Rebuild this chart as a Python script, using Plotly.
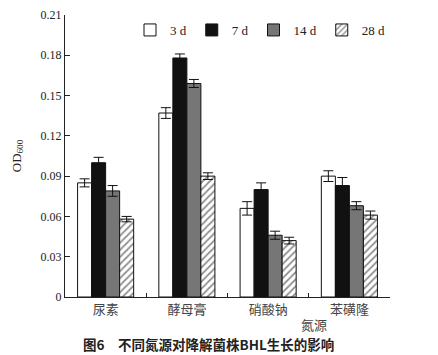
import plotly.graph_objects as go

categories = ["尿素", "酵母膏", "硝酸钠", "苯磺隆"]
series_names = ["3 d", "7 d", "14 d", "28 d"]
values = {
    "3 d": [0.085, 0.137, 0.066, 0.090],
    "7 d": [0.100, 0.178, 0.080, 0.083],
    "14 d": [0.079, 0.159, 0.046, 0.068],
    "28 d": [0.058, 0.090, 0.042, 0.061],
}
errors = {
    "3 d": [0.003, 0.004, 0.005, 0.004],
    "7 d": [0.004, 0.003, 0.005, 0.006],
    "14 d": [0.004, 0.003, 0.003, 0.003],
    "28 d": [0.002, 0.0025, 0.0025, 0.003],
}
y_ticks = [0, 0.03, 0.06, 0.09, 0.12, 0.15, 0.18, 0.21]
y_tick_labels = ["0", "0.03", "0.06", "0.09", "0.12", "0.15", "0.18", "0.21"]

styles = {
    "3 d": dict(color="white", pattern=None),
    "7 d": dict(color="#111111", pattern=None),
    "14 d": dict(color="#767676", pattern=None),
    "28 d": dict(color="white", pattern=dict(shape="/", fgcolor="#222222", bgcolor="white", size=5, solidity=0.35)),
}

serif = "Liberation Serif, Times New Roman, serif"
cjk = "Noto Sans CJK SC, sans-serif"

fig = go.Figure()
for name in series_names:
    st = styles[name]
    marker = dict(color=st["color"], line=dict(color="#111111", width=1))
    if st["pattern"]:
        marker["pattern"] = st["pattern"]
    fig.add_trace(go.Bar(
        name=name,
        x=categories,
        y=values[name],
        marker=marker,
        error_y=dict(type="data", array=errors[name], color="#111111", thickness=1, width=5),
    ))

# page body has an 8px default margin, so the figure is sized 8px smaller
fig.update_layout(
    width=430, height=347,
    margin=dict(l=57, r=48, t=7, b=58, autoexpand=False),
    barmode="group",
    bargap=0.31,
    bargroupgap=0,
    plot_bgcolor="white",
    paper_bgcolor="white",
    font=dict(family=serif, size=12, color="#222222"),
    showlegend=True,
    legend=dict(
        orientation="h", x=0.2, y=1.0, xanchor="left", yanchor="top",
        font=dict(family=serif, size=13, color="#222222"),
        bgcolor="rgba(0,0,0,0)", itemwidth=30, tracegroupgap=0,
    ),
    xaxis=dict(
        showline=True, linecolor="#222222", linewidth=1,
        ticks="inside", ticklen=4, tickcolor="#222222", tickson="boundaries",
        tickfont=dict(family=cjk, size=13, color="#444444"),
        showgrid=False, mirror=False, automargin=False,
    ),
    yaxis=dict(
        range=[0, 0.21], tickvals=y_ticks, ticktext=y_tick_labels,
        showline=True, linecolor="#222222", linewidth=1,
        ticks="inside", ticklen=5, tickcolor="#222222",
        showgrid=False, zeroline=False, automargin=False,
        tickfont=dict(family=serif, size=12, color="#222222"),
        title=dict(text="OD<sub>600</sub>", font=dict(family=serif, size=13, color="#222222"), standoff=16),
    ),
    annotations=[
        dict(text="氮源", xref="paper", yref="paper", x=0.765, y=-0.097, xanchor="center", yanchor="middle",
             showarrow=False, font=dict(family=cjk, size=13, color="#444444")),
        dict(text="<b>图6　不同氮源对降解菌株BHL生长的影响</b>", xref="paper", yref="paper", x=0.44, y=-0.165,
             xanchor="center", yanchor="middle", showarrow=False, font=dict(family=cjk, size=13.5, color="#222222")),
    ],
)

fig.write_html("out.html")
